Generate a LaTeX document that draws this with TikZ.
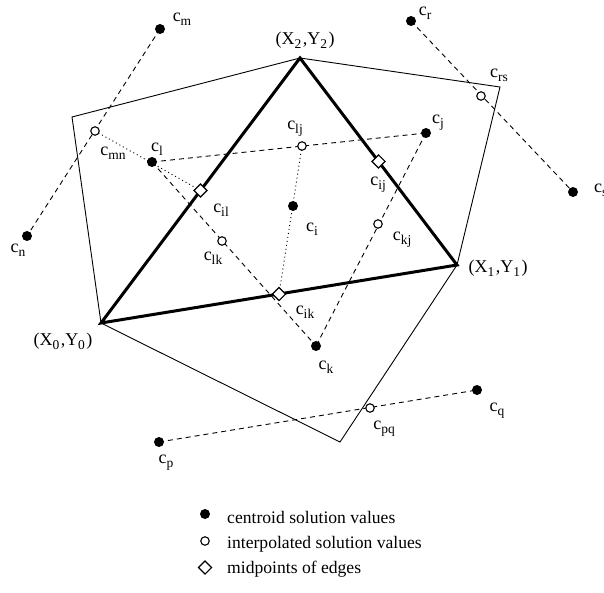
\documentclass[tikz,border=0pt]{standalone}
\usepackage{fontspec}
\setmainfont{Liberation Serif}
\usetikzlibrary{shapes.geometric}
\newcommand\sbx[1]{\raisebox{-4pt}{\fontsize{13.5}{13.5}\selectfont #1}}
\pgfdeclarelayer{bg}
\pgfsetlayers{bg,main}
\tikzset{
 cdot/.style={circle,fill=black,inner sep=0pt,minimum size=10pt},
 odot/.style={circle,draw=black,fill=white,line width=1.1pt,inner sep=0pt,minimum size=8.5pt},
 mid/.style={diamond,draw=black,fill=white,line width=1.1pt,inner sep=0pt,minimum size=13.5pt},
 lbl/.style={inner sep=0pt,font=\fontsize{18}{20}\selectfont},
 leg/.style={inner sep=0pt,anchor=base west,font=\fontsize{17.6}{20}\selectfont},
 dsh/.style={line width=0.9pt,dash pattern=on 5pt off 4pt},
 dtt/.style={line width=0.9pt,dash pattern=on 1pt off 3pt},
 tri/.style={line width=3pt},
 cv/.style={line width=0.9pt},
}
\begin{document}
\begin{tikzpicture}[x=1pt,y=-1pt]
\useasboundingbox (0,0) rectangle (604,593);
% vertices of triangle and control volume
\coordinate (X0) at (101,323);
\coordinate (X1) at (457,265);
\coordinate (X2) at (300,58);
\coordinate (TL) at (72,117);
\coordinate (TR) at (500,87);
\coordinate (B)  at (340,442);
\draw[cv] (X0) -- (TL) -- (X2) -- (TR) -- (X1) -- (B) -- cycle;
\draw[tri] (X0) -- (X1) -- (X2) -- cycle;
% points
\node[cdot] (cm) at (160,29) {};
\node[cdot] (cn) at (27,236) {};
\node[odot] (cmn) at (95,131) {};
\node[cdot] (cl) at (152,162) {};
\node[mid] (cil) at (200.5,190.5) {};
\node[odot] (clj) at (302,146) {};
\node[cdot] (ci) at (293,206) {};
\node[odot] (clk) at (222,241) {};
\node[mid] (cik) at (279,294) {};
\node[cdot] (cj) at (426,133) {};
\node[mid] (cij) at (378.5,161.5) {};
\node[odot] (ckj) at (378,224) {};
\node[cdot] (ck) at (316,346) {};
\node[cdot] (cr) at (411,21) {};
\node[odot] (crs) at (481,96) {};
\node[cdot] (cs) at (573,192) {};
\node[cdot] (cp) at (159,442) {};
\node[odot] (cpq) at (370,408) {};
\node[cdot] (cq) at (477,390) {};
\begin{pgfonlayer}{bg}
\draw[dsh] (cm.center) -- (cn.center);
\draw[dsh] (cr.center) -- (cs.center);
\draw[dsh] (cp.center) -- (cq.center);
\draw[dsh] (cl.center) -- (cj.center);
\draw[dsh] (cl.center) -- (ck.center);
\draw[dsh] (cj.center) -- (ck.center);
\draw[dtt] (cmn.center) -- (cil.center);
\draw[dtt] (clj.center) -- (cik.center);
\end{pgfonlayer}
% labels
\node[lbl] (lm) at (182,19) {c\sbx{m}};
\node[lbl] (ln) at (18,250) {c\sbx{n}};
\node[lbl] (lmn) at (113,153) {c\sbx{mn}};
\node[lbl] (ll) at (157,149) {c\sbx{l}};
\node[lbl] (lil) at (221,210) {c\sbx{il}};
\node[lbl] (llk) at (213,258) {c\sbx{lk}};
\node[lbl] (llj) at (295,129) {c\sbx{lj}};
\node[lbl] (li) at (312,229) {c\sbx{i}};
\node[lbl] (lij) at (378,185) {c\sbx{ij}};
\node[lbl] (lkj) at (402,240) {c\sbx{kj}};
\node[lbl] (lik) at (305,312) {c\sbx{ik}};
\node[lbl] (lj) at (438,123) {c\sbx{j}};
\node[lbl] (lr) at (425,13) {c\sbx{r}};
\node[lbl] (lrs) at (499,75) {c\sbx{rs}};
\node[lbl,anchor=west] (ls) at (594,190) {c\sbx{s}};
\node[lbl] (lk) at (326,367) {c\sbx{k}};
\node[lbl] (lpq) at (384,429) {c\sbx{pq}};
\node[lbl] (lq) at (497,411) {c\sbx{q}};
\node[lbl] (lp) at (166,463) {c\sbx{p}};
\node[lbl] (lX2) at (305,40) {(X\sbx{2}\kern1.5pt,Y\sbx{2}\kern1.5pt)};
\node[lbl] (lX1) at (498,268) {(X\sbx{1}\kern1.5pt,Y\sbx{1}\kern1.5pt)};
\node[lbl] (lX0) at (63,341) {(X\sbx{0}\kern1.5pt,Y\sbx{0}\kern1.5pt)};
% legend
\node[cdot] (k1) at (205,514) {};
\node[odot] (k2) at (205,541) {};
\node[mid] (k3) at (205,567.5) {};
\node[leg] (t1) at (227,523) {centroid solution values};
\node[leg] (t2) at (227,548) {interpolated solution values};
\node[leg] (t3) at (227,573) {midpoints of edges};
\end{tikzpicture}
\end{document}
